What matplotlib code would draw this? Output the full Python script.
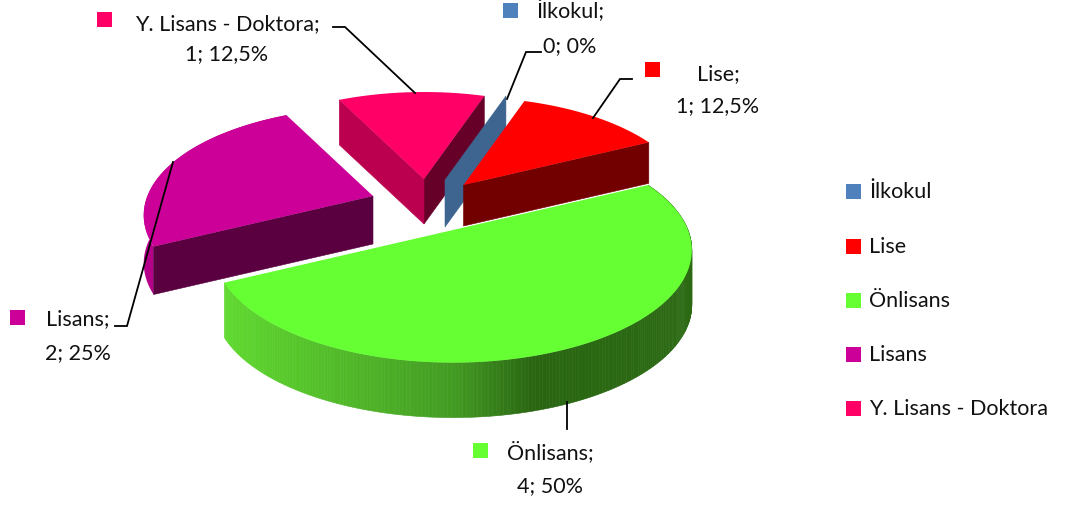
import numpy as np
import matplotlib
matplotlib.use("Agg")
import matplotlib.pyplot as plt
from matplotlib.colors import LinearSegmentedColormap
from matplotlib.patches import Polygon, Rectangle

categories = ["İlkokul", "Lise", "Önlisans", "Lisans", "Y. Lisans - Doktora"]
values = [0, 1, 4, 2, 1]

START_ANGLE = 71.4
RX, RY, K = 235, 109, 0.178

# slice layout in pixels: apex x, apex y, scale, depth
layout = {
    "İlkokul": (445, 181, 0.95, 47),
    "Lise": (463.5, 186, 0.95, 41),
    "Önlisans": (453, 231, 1.0, 55),
    "Lisans": (373, 197, 0.96, 48),
    "Y. Lisans - Doktora": (424, 180, 0.94, 45),
}
top_colors = {
    "İlkokul": "#4f81bd",
    "Lise": "#ff0000",
    "Önlisans": "#66ff33",
    "Lisans": "#cc0099",
    "Y. Lisans - Doktora": "#ff0066",
}
# (start wall colour, end wall colour), None when the wall is hidden
wall_colors = {
    "İlkokul": ("#3d6590", None),
    "Lise": (None, "#730000"),
    "Önlisans": (None, None),
    "Lisans": ("#5a0040", None),
    "Y. Lisans - Doktora": ("#bb0050", "#660029"),
}
label_pos = {
    "İlkokul": (503, 4, 570, 11, 46),
    "Lise": (645, 63, 718, 74, 106),
    "Önlisans": (473, 444, 550, 452, 486),
    "Lisans": (10, 311, 78, 319, 353),
    "Y. Lisans - Doktora": (97, 13, 227, 24, 54),
}
leaders = {
    "İlkokul": ([541, 526, 507], [53, 53, 100]),
    "Lise": ([632, 620, 593], [80, 80, 119]),
    "Önlisans": ([567, 567], [403, 430]),
    "Lisans": ([115, 127, 173], [327, 327, 163]),
    "Y. Lisans - Doktora": ([333, 345, 415], [28, 28, 94]),
}
legend_y = [192, 247, 301, 355, 409]

green_wall = LinearSegmentedColormap.from_list(
    "green_wall",
    [(0, "#5ed92e"), (0.3, "#4fb428"), (0.5, "#429a22"), (0.66, "#2a6612"), (1, "#2b6a13")],
)


def project(angle, name, drop=0.0):
    cx, cy, scale, _ = layout[name]
    a = np.radians(angle)
    u, v = np.cos(a), np.sin(a)
    w = 1 + K * v
    return cx + scale * RX * u / w, cy - scale * RY * v / w + drop


def radial_wall(ax, angle, name, color):
    cx, cy, _, depth = layout[name]
    x, y = project(angle, name)
    ax.add_patch(Polygon([(cx, cy), (x, y), (x, y + depth), (cx, cy + depth)], closed=True,
                         facecolor=color, edgecolor=color, linewidth=0.4))


def main() -> None:
    fig = plt.figure(figsize=(10.73, 5.06), dpi=100)
    ax = fig.add_axes([0, 0, 1, 1])
    ax.set_xlim(0, 1073)
    ax.set_ylim(506, 0)
    ax.axis("off")
    plt.rcParams["font.family"] = ["Lato", "DejaVu Sans"]

    sweep = np.array(values) / sum(values) * 360
    starts = START_ANGLE - np.concatenate([[0], np.cumsum(sweep)[:-1]])
    angles = {n: (s, s - d) for n, s, d in zip(categories, starts, sweep)}

    # back slices first, the big front slice last
    for name in ["Lisans", "Y. Lisans - Doktora", "İlkokul", "Lise", "Önlisans"]:
        a0, a1 = angles[name]
        cx, cy, _, depth = layout[name]
        arc = np.linspace(a0, a1, 240)
        xs, ys = project(arc, name)
        if name == "Önlisans":
            span = xs.max() - xs.min()
            for i in range(len(arc) - 1):
                color = green_wall((xs[i] - xs.min()) / span)
                ax.add_patch(Polygon([(xs[i], ys[i]), (xs[i + 1], ys[i + 1]),
                                      (xs[i + 1], ys[i + 1] + depth), (xs[i], ys[i] + depth)],
                                     closed=True, facecolor=color, edgecolor=color, linewidth=0.4))
        elif name == "Lisans":
            ax.add_patch(Polygon(np.r_[np.c_[xs, ys], np.c_[xs, ys + depth][::-1]], closed=True,
                                 facecolor="#b5008a", edgecolor="none"))
        start_color, end_color = wall_colors[name]
        if end_color:
            radial_wall(ax, a1, name, end_color)
        if start_color:
            radial_wall(ax, a0, name, start_color)
        if sweep[categories.index(name)] > 0:
            ax.add_patch(Polygon(np.r_[[(cx, cy)], np.c_[xs, ys]], closed=True,
                                 facecolor=top_colors[name], edgecolor="none"))

    for name, value in zip(categories, values):
        sx, sy, tx, y1, y2 = label_pos[name]
        ax.add_patch(Rectangle((sx, sy), 15, 15, facecolor=top_colors[name], edgecolor="none"))
        pct = f"{value / sum(values) * 100:g}".replace(".", ",")
        ax.text(tx, y1, f"{name};", ha="center", va="center", fontsize=15.5, color="#111111")
        ax.text(tx, y2, f"{value}; {pct}%", ha="center", va="center", fontsize=15.5, color="#111111")
        lx, ly = leaders[name]
        ax.plot(lx, ly, color="black", linewidth=1.3, solid_joinstyle="miter")

    for name, y in zip(categories, legend_y):
        ax.add_patch(Rectangle((846, y - 7.5), 15, 15, facecolor=top_colors[name], edgecolor="none"))
        ax.text(869, y, name, ha="left", va="center", fontsize=15.5, color="#111111")

    fig.savefig("out.png", dpi=100)


if __name__ == "__main__":
    main()
